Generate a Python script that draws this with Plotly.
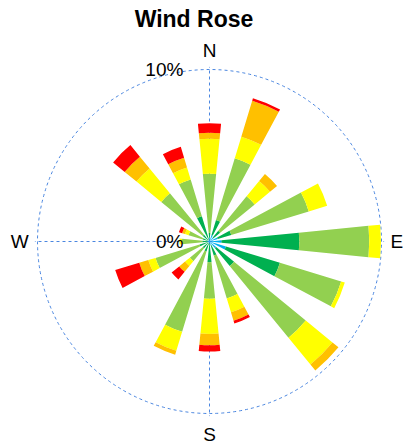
import plotly.graph_objects as go

directions = ["N", "NNE", "NE", "ENE", "E", "ESE", "SE", "SSE",
              "S", "SSW", "SW", "WSW", "W", "WNW", "NW", "NNW"]

light_blue  = [0.2, 0.4, 0.3, 0.5, 0.7, 1.0, 0.5, 0.2, 0.1, 0.1, 0.1, 0.1, 0.1, 0.1, 0.1, 0.1]
dark_green  = [0.3, 0.9, 0.5, 0.82, 4.52, 3.28, 1.35, 0.65, 1.1, 0.5, 0.4, 0.5, 0.3, 0.3, 0.4, 1.43]
yellowgreen = [3.44, 3.76, 2.6, 4.71, 4.07, 3.72, 5.39, 2.61, 2.13, 4.88, 0.98, 2.68, 1.2, 0.87, 3.13, 2.24]
yellow      = [2.03, 1.31, 1.15, 1.12, 0.68, 0.22, 2.01, 0.84, 2.05, 1.16, 0.36, 0.44, 0.15, 0.22, 1.86, 0.73]
orange      = [0.35, 2.18, 0.53, 0.0, 0.0, 0.0, 0.45, 0.51, 0.65, 0.24, 0.44, 0.55, 0.0, 0.17, 0.89, 0.59]
red         = [0.56, 0.15, 0.0, 0.0, 0.0, 0.0, 0.0, 0.17, 0.37, 0.0, 0.57, 1.46, 0.0, 0.2, 0.87, 0.66]

series = [
    ("Calm", light_blue, "#00B0F0"),
    ("Band 1", dark_green, "#00B050"),
    ("Band 2", yellowgreen, "#92D050"),
    ("Band 3", yellow, "#FFFF00"),
    ("Band 4", orange, "#FFC000"),
    ("Band 5", red, "#FF0000"),
]

radial_ticks = [0, 10]
radial_labels = ["0%", "10%"]
compass_ticks = ["N", "E", "S", "W"]

fig = go.Figure()
for name, vals, col in series:
    fig.add_trace(go.Barpolar(
        r=vals, theta=directions, name=name, width=0.5,
        marker=dict(color=col, line=dict(width=0)),
    ))

W, H = 403, 446
cx, cy, R = 209.5, 241.5, 172
rmax = 10.15
Rd = R * rmax / 10
grid_col = "#4A86E0"
fig.update_layout(
    template="none",
    width=W, height=H,
    margin=dict(l=0, r=0, t=0, b=0),
    paper_bgcolor="white",
    showlegend=False,
    font=dict(family="Arial, Liberation Sans, sans-serif", color="black"),
    title=dict(text="<b>Wind Rose</b>", x=194 / W, xanchor="center",
               yref="container", y=1 - 19 / H, yanchor="middle",
               font=dict(size=23, color="black")),
    polar=dict(
        domain=dict(x=[(cx - Rd) / W, (cx + Rd) / W],
                    y=[(H - cy - Rd) / H, (H - cy + Rd) / H]),
        bgcolor="white",
        barmode="stack",
        angularaxis=dict(
            type="category", categoryarray=directions,
            rotation=90, direction="clockwise",
            tickmode="array", tickvals=compass_ticks,
            tickfont=dict(size=19),
            showline=False,
            ticks="outside", ticklen=2, tickcolor="rgba(0,0,0,0)",
            showgrid=True, gridcolor=grid_col, gridwidth=1, griddash="dot",
        ),
        radialaxis=dict(
            range=[0, rmax], angle=90, side="counterclockwise",
            tickmode="array", tickvals=radial_ticks, ticktext=radial_labels,
            tickangle=90, tickfont=dict(size=19),
            ticks="outside", ticklen=19, tickcolor="rgba(0,0,0,0)",
            showline=False,
            showgrid=True, gridcolor=grid_col, gridwidth=1, griddash="dot",
        ),
    ),
)

fig.write_html("out.html", config={"displayModeBar": False},
               post_script="document.body.style.margin='0';")
